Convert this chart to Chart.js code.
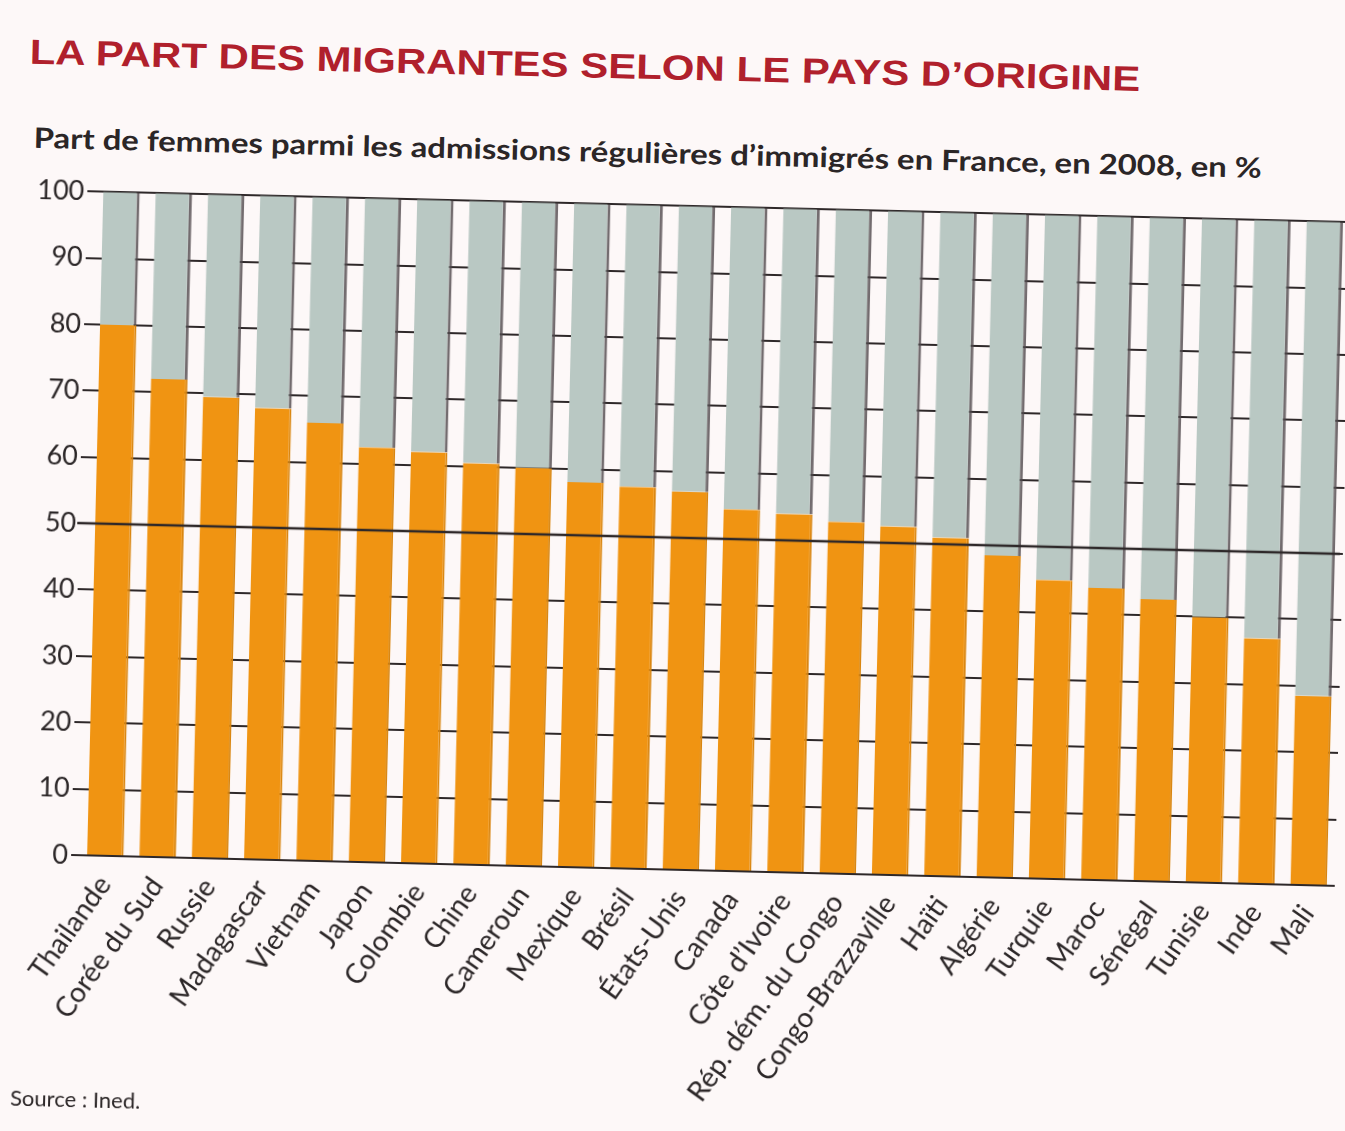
<!DOCTYPE html>
<html lang="fr">
<head>
<meta charset="utf-8">
<title>La part des migrantes selon le pays d'origine</title>
<script src="https://cdn.jsdelivr.net/npm/chart.js@4.4.1/dist/chart.umd.min.js"></script>
<style>
  html, body { margin: 0; padding: 0; background: #fdf8f8; overflow: hidden; }
  #page {
    position: relative;
    width: 1380px;
    height: 1131px;
    transform: rotate(1.4deg);
    transform-origin: 0 0;
  }
  #title {
    position: absolute; left: 31px; top: 33px;
    font: bold 35px "Liberation Sans", Arial, sans-serif;
    color: #b0202c; white-space: nowrap; line-height: 1;
    transform: scaleX(1.2); transform-origin: 0 0;
  }
  #subtitle {
    position: absolute; left: 37px; top: 122px;
    font: bold 28px Lato, "Noto Sans", sans-serif;
    color: #2b2627; white-space: nowrap; line-height: 1;
    transform: scaleX(1.175); transform-origin: 0 0;
  }
  #chartBox { position: absolute; left: 0; top: 170px; width: 1370px; height: 930px; }
  #source {
    position: absolute; left: 37px; top: 1086px;
    font: 22px Lato, "Noto Sans", sans-serif;
    color: #2b2627; white-space: nowrap; line-height: 1;
  }
</style>
</head>
<body>
<div id="page">
  <div id="title">LA PART DES MIGRANTES SELON LE PAYS D’ORIGINE</div>
  <div id="subtitle">Part de femmes parmi les admissions régulières d’immigrés en France, en 2008, en %</div>
  <div id="chartBox"><canvas id="migrantes"></canvas></div>
  <div id="source">Source : Ined.</div>
</div>
<script>
const pays = ['Thailande', 'Corée du Sud', 'Russie', 'Madagascar', 'Vietnam', 'Japon',
  'Colombie', 'Chine', 'Cameroun', 'Mexique', 'Brésil', 'États-Unis', 'Canada',
  'Côte d’Ivoire', 'Rép. dém. du Congo', 'Congo-Brazzaville', 'Haïti', 'Algérie',
  'Turquie', 'Maroc', 'Sénégal', 'Tunisie', 'Inde', 'Mali'];

// part des femmes, en %
const femmes = [80, 72, 69.5, 68, 66, 62.5, 62, 60.5, 60, 58, 57.5, 57,
  54.5, 54, 53, 52.5, 51, 48.5, 45, 44, 42.5, 40, 37, 28.5];

// part des hommes (le reste jusqu'à 100 %)
const hommes = [20, 28, 30.5, 32, 34, 37.5, 38, 39.5, 40, 42, 42.5, 43,
  45.5, 46, 47, 47.5, 49, 51.5, 55, 56, 57.5, 60, 63, 71.5];

const yTicks = [0, 10, 20, 30, 40, 50, 60, 70, 80, 90, 100];
const parite = 50;

const lineColor = '#2e2829';
const textColor = '#2b2627';

// ligne des 50 %, par-dessus les barres
const pariteLine = {
    id: 'pariteLine',
    afterDatasetsDraw(chart) {
        const { ctx, chartArea, scales } = chart;
        const y = scales.y.getPixelForValue(parite);
        ctx.save();
        ctx.strokeStyle = lineColor;
        ctx.lineWidth = 2.5;
        ctx.beginPath();
        ctx.moveTo(chartArea.left - 10, y);
        ctx.lineTo(chartArea.right - 3, y);
        ctx.stroke();
        ctx.restore();
    }
};

new Chart(document.getElementById('migrantes'), {
    type: 'bar',
    data: {
        labels: pays,
        datasets: [{
            label: 'Femmes',
            data: femmes,
            backgroundColor: '#f09412',
            borderColor: '#d9850f',
            borderWidth: { right: 2 },
            borderSkipped: false,
            categoryPercentage: 1,
            barPercentage: 0.7
        }, {
            label: 'Hommes',
            data: hommes,
            backgroundColor: '#b9c8c3',
            borderColor: 'rgba(80, 72, 76, 0.8)',
            borderWidth: { right: 3 },
            borderSkipped: false,
            categoryPercentage: 1,
            barPercentage: 0.7
        }]
    },
    options: {
        responsive: true,
        maintainAspectRatio: false,
        animation: false,
        layout: { padding: { top: 16, right: 14, left: 0, bottom: 0 } },
        plugins: {
            legend: { display: false },
            tooltip: { enabled: false }
        },
        scales: {
            x: {
                stacked: true,
                grid: { display: false },
                border: { display: false },
                afterFit(scale) { scale.height = 247; },
                ticks: {
                    autoSkip: false,
                    minRotation: 56,
                    maxRotation: 56,
                    padding: 6,
                    color: textColor,
                    font: { family: 'Lato', size: 28 }
                }
            },
            y: {
                stacked: true,
                min: 0,
                max: 100,
                afterFit(scale) { scale.width = 100; },
                afterBuildTicks(scale) { scale.ticks = yTicks.map(v => ({ value: v })); },
                grid: {
                    color: lineColor,
                    lineWidth: 2,
                    tickLength: 8,
                    tickColor: lineColor
                },
                border: { display: false },
                ticks: {
                    padding: 3,
                    color: textColor,
                    font: { family: 'Lato', size: 27 }
                }
            }
        }
    },
    plugins: [pariteLine]
});
</script>
</body>
</html>
